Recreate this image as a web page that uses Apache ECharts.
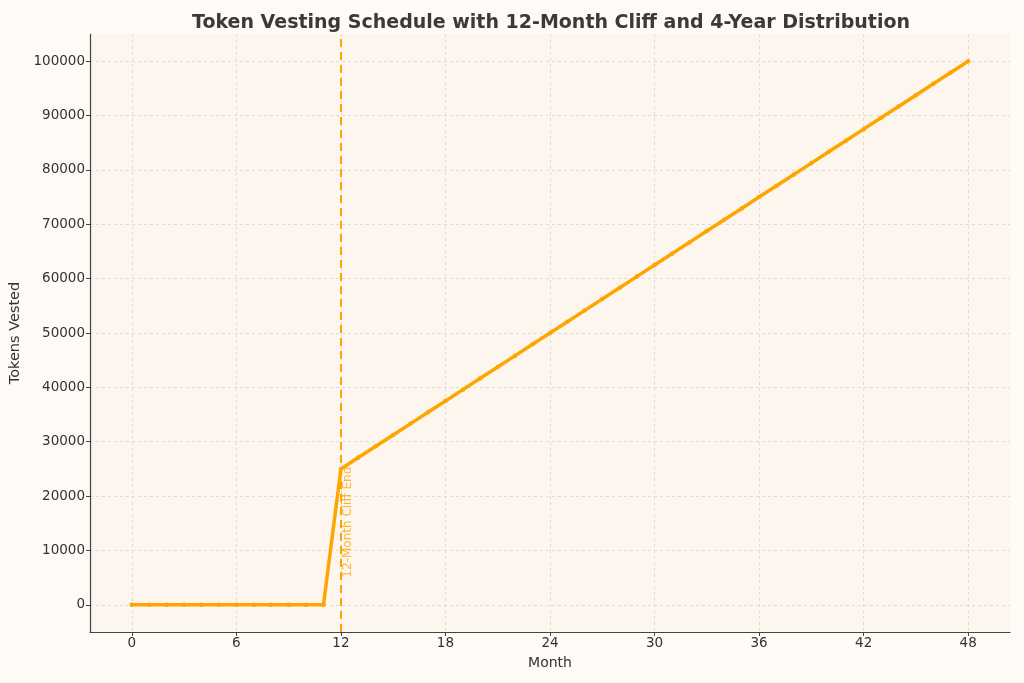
<!DOCTYPE html>
<html>
<head>
<meta charset="utf-8">
<script src="https://cdn.jsdelivr.net/npm/echarts@6/dist/echarts.min.js"></script>
<style>
  html, body { margin: 0; padding: 0; background: #fefaf5; }
  #chart { width: 1024px; height: 683px; }
</style>
</head>
<body>
<div id="chart"></div>
<script>
// months 0..48
var months = [0,1,2,3,4,5,6,7,8,9,10,11,12,13,14,15,16,17,18,19,20,21,22,23,24,
  25,26,27,28,29,30,31,32,33,34,35,36,37,38,39,40,41,42,43,44,45,46,47,48]
// tokens vested per month
var vested = [0,0,0,0,0,0,0,0,0,0,0,0,
  25000,27083,29167,31250,33333,35417,37500,39583,41667,43750,45833,47917,
  50000,52083,54167,56250,58333,60417,62500,64583,66667,68750,70833,72917,
  75000,77083,79167,81250,83333,85417,87500,89583,91667,93750,95833,97917,100000]
var xTicks = [0,6,12,18,24,30,36,42,48]
var yTicks = [0,10000,20000,30000,40000,50000,60000,70000,80000,90000,100000]
var cliffMonth = 12
var cliffLabel = '12-Month Cliff End'

var orange = '#ffa500'
var chart = echarts.init(document.getElementById('chart'))

var lineData = months.map(function (m, i) { return [m, vested[i]] })

chart.setOption({
  backgroundColor: '#fefaf5',
  textStyle: { fontFamily: 'DejaVu Sans' },
  title: {
    text: 'Token Vesting Schedule with 12-Month Cliff and 4-Year Distribution',
    left: 546, top: 9, textAlign: 'center',
    textStyle: { fontSize: 19, fontWeight: 'bold', color: '#3a3a3a', fontFamily: 'DejaVu Sans' }
  },
  grid: {
    left: 90, right: 14, top: 34, bottom: 51, containLabel: false, outerBoundsMode: 'none',
    show: true, backgroundColor: '#fdf6ee', borderWidth: 0
  },
  xAxis: {
    type: 'value', min: -2.4, max: 50.4,
    name: 'Month', nameLocation: 'middle', nameGap: 24,
    nameTextStyle: { fontSize: 14, color: '#333' },
    axisLine: { show: true, onZero: false, lineStyle: { color: '#444', width: 1.2 } },
    axisTick: { show: true, customValues: xTicks, length: 4, lineStyle: { color: '#444' } },
    axisLabel: { customValues: xTicks, fontSize: 13.5, color: '#333', margin: 4,
      formatter: function (v) { return String(v) } },
    splitLine: { show: true, lineStyle: { type: [3, 3], color: '#dad5ce', width: 0.8 } }
  },
  yAxis: {
    type: 'value', min: -5000, max: 105000,
    name: 'Tokens Vested', nameLocation: 'middle', nameGap: 62,
    nameTextStyle: { fontSize: 14.5, color: '#333' },
    axisLine: { show: true, onZero: false, lineStyle: { color: '#444', width: 1.2 } },
    axisTick: { show: true, customValues: yTicks, length: 4, lineStyle: { color: '#444' } },
    axisLabel: { customValues: yTicks, fontSize: 13.5, color: '#333', margin: 5,
      formatter: function (v) { return String(v) } },
    splitLine: { show: true, lineStyle: { type: [3, 3], color: '#dad5ce', width: 0.8 } }
  },
  series: [
    {
      type: 'line',
      data: lineData,
      symbol: 'circle', symbolSize: 4.5,
      lineStyle: { color: orange, width: 3.5 },
      itemStyle: { color: orange },
      z: 3,
      markLine: {
        silent: true, symbol: 'none',
        lineStyle: { color: orange, type: [8, 5], width: 2 },
        label: { show: false },
        data: [{ xAxis: cliffMonth }]
      }
    },
    {
      type: 'scatter',
      data: [[cliffMonth, 5000]],
      symbolSize: 0,
      silent: true,
      label: {
        show: true, formatter: cliffLabel, position: [1, 0],
        rotate: 90, align: 'left', verticalAlign: 'top',
        color: orange, fontSize: 12
      }
    }
  ]
})
</script>
</body>
</html>
